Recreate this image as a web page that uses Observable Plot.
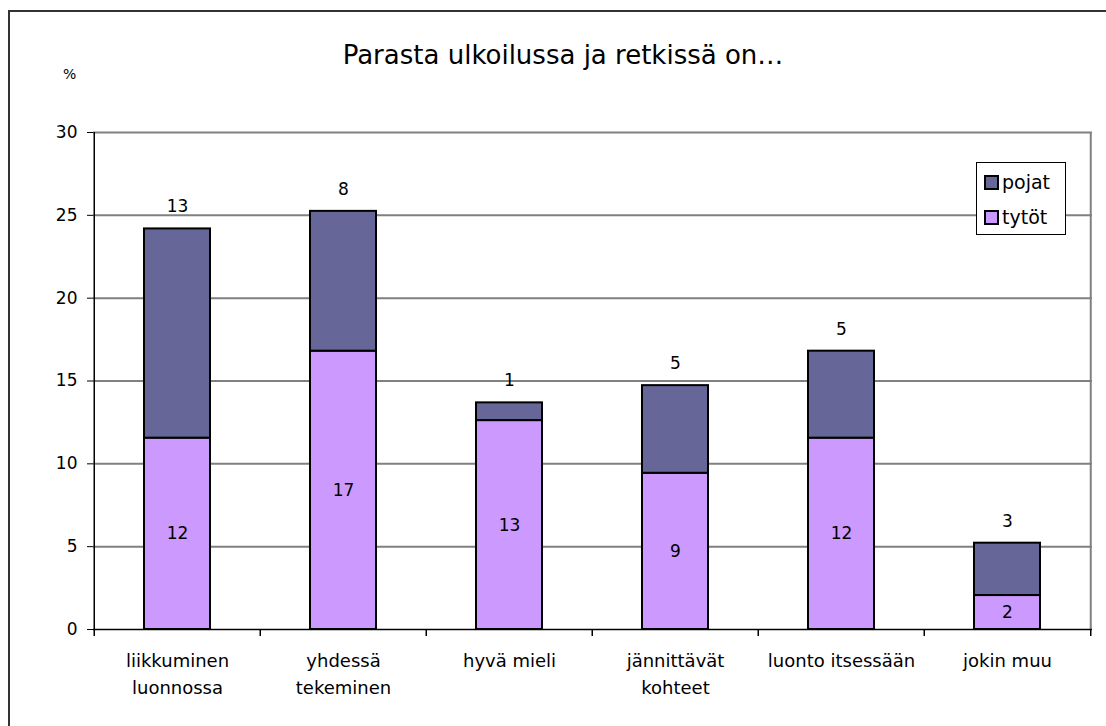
<!DOCTYPE html>
<html>
<head>
<meta charset="utf-8">
<script src="https://cdn.jsdelivr.net/npm/d3@7"></script>
<script src="https://cdn.jsdelivr.net/npm/@observablehq/plot@0.6"></script>
<style>
  html, body { margin: 0; padding: 0; background: #fff; overflow: hidden; }
  #wrap { position: relative; width: 1106px; height: 726px; font-family: "DejaVu Sans", Verdana, sans-serif; }
  #border { position: absolute; left: 8px; top: 10px; width: 1200px; height: 800px; border: 2px solid #333; box-sizing: border-box; }
  #title { position: absolute; left: 0; width: 1126px; top: 40px; text-align: center; font-size: 26px; color: #000; }
  #unit { position: absolute; left: 63px; top: 66px; font-size: 14px; }
  #chart { position: absolute; left: 0; top: 0; }
  #legend { position: absolute; left: 976px; top: 162px; width: 90px; height: 73px; border: 1px solid #000; background: #fff; box-sizing: border-box; font-size: 19px; }
  .item { position: absolute; left: 7px; display: flex; align-items: center; }
  .sw { width: 11px; height: 11px; border: 2px solid #000; margin-right: 3px; }
</style>
</head>
<body>
<div id="wrap">
  <div id="border"></div>
  <div id="chart"></div>
  <div id="title">Parasta ulkoilussa ja retkissä on…</div>
  <div id="unit">%</div>
  <div id="legend"></div>
</div>
<script>
const categories = ["liikkuminen\nluonnossa", "yhdessä\ntekeminen", "hyvä mieli", "jännittävät\nkohteet", "luonto itsessään", "jokin muu"];
const tytot = [11.55, 16.8, 12.61, 9.43, 11.55, 2.05];
const pojat = [12.63, 8.44, 1.07, 5.29, 5.25, 3.16];
const groups = ["tytöt", "pojat"];
const colors = ["#CC99FF", "#666699"];
const yTicks = [0, 5, 10, 15, 20, 25, 30];

const rows = [];
categories.forEach((c, i) => {
  rows.push({cat: c, group: "tytöt", value: tytot[i], base: 0});
  rows.push({cat: c, group: "pojat", value: pojat[i], base: tytot[i]});
});

const W = 1106, H = 726, ML = 93, MR = 14, MT = 132, MB = 97;
const step = (W - ML - MR) / categories.length;

const chart = Plot.plot({
  width: W, height: H,
  marginLeft: ML, marginRight: MR, marginTop: MT, marginBottom: MB,
  style: {fontFamily: "DejaVu Sans, Verdana, sans-serif", fontSize: "17px", color: "#000", background: "transparent"},
  x: {domain: categories, paddingInner: 0.6, paddingOuter: 0.3, label: null},
  y: {domain: [0, 30], label: null},
  color: {domain: groups, range: colors},
  marks: [
    Plot.ruleY(yTicks.filter(d => d > 0), {stroke: "#808080", strokeWidth: 2}),
    Plot.ruleX([0], {x: () => categories[categories.length - 1], y1: 0, y2: 30, dx: step / 2, stroke: "#808080", strokeWidth: 2}),
    Plot.barY(rows, {x: "cat", y1: "base", y2: d => d.base + d.value, fill: "group", stroke: "#000", strokeWidth: 2}),
    Plot.text(rows.filter(d => d.group === "tytöt"), {x: "cat", y: d => d.value / 2, text: d => d3.format(".0f")(d.value), fontSize: 17}),
    Plot.text(rows.filter(d => d.group === "pojat"), {x: "cat", y: d => d.base + d.value, text: d => d3.format(".0f")(d.value), dy: -22, fontSize: 17}),
    Plot.axisY({ticks: yTicks, tickSize: 6, tickPadding: 10, fontSize: 17, tickFormat: d => d}),
    Plot.ruleX([0], {x: () => categories[0], dx: -step / 2, y1: 0, y2: 30, stroke: "#000", strokeWidth: 1.5}),
    Plot.axisX({tickSize: 0, tickPadding: 18, fontSize: 18, lineHeight: 1.5}),
    Plot.ruleX(categories, {x: d => d, y1: 0, y2: 0, dx: -step / 2, insetBottom: -7, stroke: "#000", strokeWidth: 1.5}),
    Plot.ruleX([categories[categories.length - 1]], {x: d => d, y1: 0, y2: 0, dx: step / 2, insetBottom: -7, stroke: "#000", strokeWidth: 1.5}),
    Plot.ruleY([0], {stroke: "#000", strokeWidth: 1.5})
  ]
});
document.getElementById("chart").appendChild(chart);

const legend = document.getElementById("legend");
[["pojat", colors[1], 8], ["tytöt", colors[0], 43]].forEach(([name, col, top]) => {
  const it = document.createElement("div");
  it.className = "item";
  it.style.top = top + "px";
  it.innerHTML = `<div class="sw" style="background:${col}"></div><span>${name}</span>`;
  legend.appendChild(it);
});
</script>
</body>
</html>
